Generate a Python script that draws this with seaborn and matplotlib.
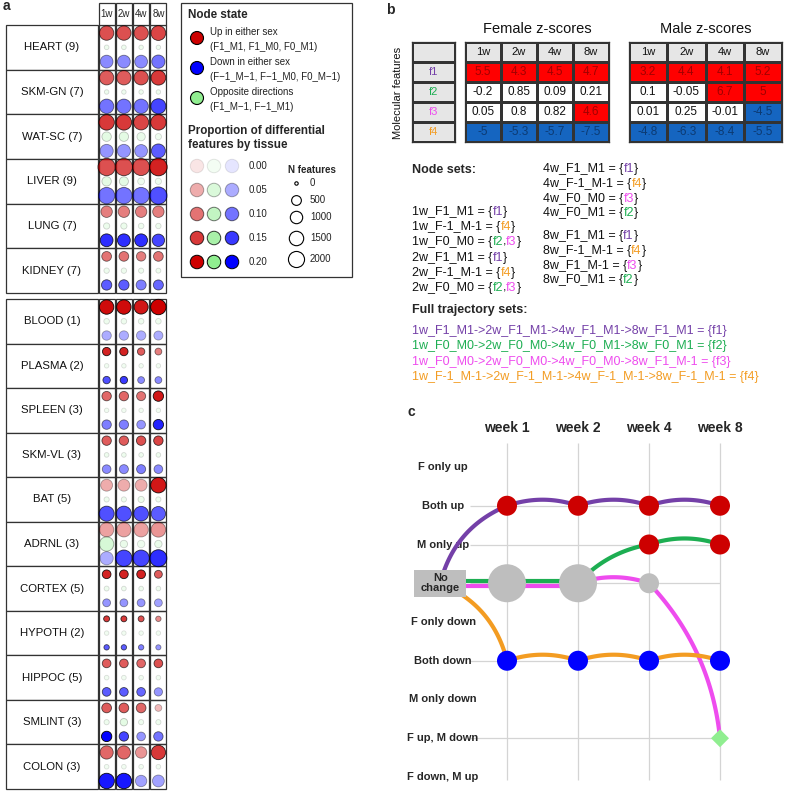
import numpy as np
import pandas as pd
import matplotlib
matplotlib.use("Agg")
import matplotlib.pyplot as plt
import seaborn as sns
from matplotlib.colors import ListedColormap, to_rgba
from matplotlib.patches import Rectangle

W, H = 785, 793

# ---------------- panel a data ----------------
WEEKS = ["1w", "2w", "4w", "8w"]
TISSUES_TOP = ["HEART", "SKM-GN", "WAT-SC", "LIVER", "LUNG", "KIDNEY"]
TISSUES_BOTTOM = ["BLOOD", "PLASMA", "SPLEEN", "SKM-VL", "BAT", "ADRNL",
                  "CORTEX", "HYPOTH", "HIPPOC", "SMLINT", "COLON"]
N_OMES = [9, 7, 7, 9, 7, 7, 1, 2, 3, 3, 5, 3, 5, 2, 5, 3, 3]

# number of features per tissue x week (up / opposite / down)
N_UP = [
    [1500, 1500, 1500, 1600], [1500, 1500, 1500, 1600], [1800, 1800, 1700, 1800],
    [2400, 2400, 2300, 2500], [800, 800, 800, 800], [500, 500, 450, 500],
    [1500, 1500, 1400, 1800], [300, 300, 200, 150], [450, 450, 400, 600],
    [450, 450, 450, 450], [900, 900, 900, 1800], [1500, 1500, 1500, 1600],
    [350, 350, 350, 250], [80, 80, 80, 50], [350, 350, 350, 350],
    [500, 500, 500, 150], [1200, 1200, 800, 1500],
]
N_OPP = [
    [20, 20, 15, 15], [15, 15, 15, 15], [450, 450, 300, 100],
    [450, 400, 150, 100], [100, 100, 60, 50], [50, 50, 40, 30],
    [60, 60, 60, 60], [15, 15, 15, 15], [15, 15, 15, 15],
    [20, 20, 20, 20], [40, 40, 100, 40], [1500, 200, 200, 200],
    [30, 20, 20, 20], [15, 15, 15, 15], [20, 20, 20, 20],
    [40, 200, 40, 40], [20, 20, 20, 20],
]
N_DOWN = [
    [1100, 1100, 1100, 1200], [1500, 1500, 1500, 1700], [1200, 1200, 1100, 1400],
    [2100, 2100, 2100, 2400], [1100, 1100, 1100, 1000], [600, 600, 550, 550],
    [450, 450, 450, 400], [200, 200, 150, 150], [450, 450, 350, 600],
    [350, 400, 400, 350], [1700, 1700, 1600, 1500], [1200, 2100, 2100, 2300],
    [250, 250, 250, 250], [50, 50, 50, 40], [350, 350, 350, 300],
    [600, 450, 350, 450], [1800, 1800, 800, 900],
]
# proportion of differential features by tissue
P_UP = [
    [0.13, 0.13, 0.13, 0.14], [0.12, 0.12, 0.13, 0.15], [0.15, 0.15, 0.14, 0.15],
    [0.13, 0.13, 0.13, 0.17], [0.09, 0.09, 0.09, 0.09], [0.10, 0.10, 0.09, 0.10],
    [0.19, 0.19, 0.18, 0.20], [0.17, 0.17, 0.12, 0.09], [0.11, 0.11, 0.10, 0.18],
    [0.12, 0.12, 0.13, 0.14], [0.05, 0.05, 0.05, 0.18], [0.06, 0.06, 0.06, 0.07],
    [0.17, 0.17, 0.17, 0.12], [0.15, 0.15, 0.13, 0.08], [0.12, 0.12, 0.11, 0.13],
    [0.12, 0.12, 0.11, 0.04], [0.11, 0.11, 0.07, 0.15],
]
P_OPP = [
    [0.01, 0.01, 0.01, 0.01], [0.01, 0.01, 0.01, 0.01], [0.03, 0.03, 0.02, 0.01],
    [0.03, 0.03, 0.01, 0.01], [0.015, 0.015, 0.01, 0.01], [0.01, 0.01, 0.01, 0.01],
    [0.01, 0.01, 0.01, 0.01], [0.005, 0.005, 0.005, 0.005], [0.005, 0.005, 0.005, 0.005],
    [0.01, 0.01, 0.01, 0.01], [0.01, 0.01, 0.015, 0.01], [0.06, 0.02, 0.01, 0.02],
    [0.01, 0.01, 0.01, 0.01], [0.005, 0.005, 0.005, 0.005], [0.005, 0.005, 0.005, 0.005],
    [0.01, 0.03, 0.01, 0.01], [0.005, 0.005, 0.005, 0.005],
]
P_DOWN = [
    [0.08, 0.08, 0.08, 0.10], [0.10, 0.10, 0.10, 0.14], [0.07, 0.07, 0.07, 0.12],
    [0.10, 0.10, 0.10, 0.13], [0.16, 0.16, 0.16, 0.14], [0.12, 0.12, 0.09, 0.11],
    [0.05, 0.05, 0.05, 0.05], [0.13, 0.15, 0.08, 0.08], [0.09, 0.09, 0.07, 0.17],
    [0.08, 0.08, 0.09, 0.08], [0.13, 0.13, 0.13, 0.12], [0.05, 0.14, 0.14, 0.16],
    [0.07, 0.07, 0.07, 0.06], [0.12, 0.12, 0.09, 0.07], [0.12, 0.12, 0.11, 0.07],
    [0.20, 0.14, 0.07, 0.10], [0.18, 0.18, 0.06, 0.06],
]
LEGEND_PROPS = [0.00, 0.05, 0.10, 0.15, 0.20]
LEGEND_N = [0, 500, 1000, 1500, 2000]

# ---------------- panel b / c data ----------------
FEATURES = ["f1", "f2", "f3", "f4"]
FEATURE_COLORS = ["#7440A8", "#1DAE52", "#EE4CEE", "#F39C22"]
Z_FEMALE = [[5.5, 4.3, 4.5, 4.7], [-0.2, 0.85, 0.09, 0.21],
            [0.05, 0.8, 0.82, 4.6], [-5, -5.3, -5.7, -7.5]]
Z_MALE = [[3.2, 4.4, 4.1, 5.2], [0.1, -0.05, 6.7, 5],
          [0.01, 0.25, -0.01, -4.5], [-4.8, -6.3, -8.4, -5.5]]
STATE_ROWS = ["F only up", "Both up", "M only up", "No change", "F only down",
              "Both down", "M only down", "F up, M down", "F down, M up"]
STATE_CODES = {"Both up": "F1_M1", "Both down": "F-1_M-1", "No change": "F0_M0",
               "F up, M down": "F1_M-1", "M only up": "F0_M1"}
TRAJ = [
    ["Both up", "Both up", "Both up", "Both up"],
    ["No change", "No change", "M only up", "M only up"],
    ["No change", "No change", "No change", "F up, M down"],
    ["Both down", "Both down", "Both down", "Both down"],
]
WEEK_LABELS = ["week 1", "week 2", "week 4", "week 8"]

UP_COL, OPP_COL, DOWN_COL = "#CD0000", "#90EE90", "#0000FF"
FRAME = "#333333"

sns.set_theme(style="white")
plt.rcParams["font.family"] = ["Liberation Sans", "DejaVu Sans"]

fig = plt.figure(figsize=(W / 100, H / 100), dpi=100)


def px_axes(x0, y0, x1, y1):
    return fig.add_axes([x0 / W, 1 - y1 / H, (x1 - x0) / W, (y1 - y0) / H])


def dot_diam(n):
    return 4 + 12.7 * np.sqrt(np.asarray(n, float) / 2000)


def px2area(d):
    return (np.asarray(d, float) * 0.72) ** 2


def prop_alpha(p):
    return 0.1 + 0.9 * np.clip(np.asarray(p, float) / 0.2, 0, 1)


ov = px_axes(0, 0, W, H)
ov.set_xlim(0, W)
ov.set_ylim(H, 0)
ov.axis("off")

# ================= panel a =================
SUB = {"up": 0.18, "opp": 0.5, "down": 0.82}
COLS = {"up": UP_COL, "opp": OPP_COL, "down": DOWN_COL}
ALL_TISSUES = TISSUES_TOP + TISSUES_BOTTOM


def draw_group(y0, y1, idx, header):
    ax = px_axes(98, y0, 167, y1)
    n = len(idx)
    ax.set_xlim(-0.5, 3.5)
    ax.set_ylim(n, 0)
    ax.axis("off")
    ux = 69 / 4
    rowh = (y1 - y0) / n
    recs = []
    for r, k in enumerate(idx):
        for st, nn, pp in (("up", N_UP, P_UP), ("opp", N_OPP, P_OPP), ("down", N_DOWN, P_DOWN)):
            for j in range(4):
                recs.append(dict(week=j, y=r + SUB[st], state=st, n=nn[k][j], p=pp[k][j]))
    df = pd.DataFrame(recs)
    df["area"] = px2area(dot_diam(df["n"]) - 0.6)
    amin, amax = df["area"].min(), df["area"].max()
    sns.scatterplot(data=df, x="week", y="y", size="area", sizes=(amin, amax),
                    size_norm=(amin, amax), legend=False, linewidth=0.6,
                    ax=ax, clip_on=False, zorder=3)
    alpha = prop_alpha(df["p"])
    pts = ax.collections[-1]
    pts.set_facecolors([to_rgba(COLS[s], a) for s, a in zip(df["state"], alpha)])
    pts.set_edgecolors([(0, 0, 0, a) for a in alpha])
    g = 0.03
    lx0 = -0.5 - (98 - 6) / ux
    for r, k in enumerate(idx):
        for j in range(4):
            ax.add_patch(Rectangle((j - 0.5 + g, r), 1 - 2 * g, 1, fill=False,
                                   ec=FRAME, lw=0.9, clip_on=False, zorder=2))
        ax.add_patch(Rectangle((lx0, r), -0.5 - lx0, 1, fc="white", ec=FRAME,
                               lw=0.9, clip_on=False, zorder=2))
        ax.text((lx0 - 0.5) / 2, r + 0.5, f"{ALL_TISSUES[k]} ({N_OMES[k]})",
                ha="center", va="center", fontsize=8.2, color="#111111")
    if header:
        hh = 22 / rowh
        for j, wk in enumerate(WEEKS):
            ax.add_patch(Rectangle((j - 0.5 + g, -hh), 1 - 2 * g, hh, fc="white",
                                   ec=FRAME, lw=0.9, clip_on=False, zorder=2))
            ax.text(j, -hh / 2, wk, ha="center", va="center", fontsize=7)


draw_group(25, 293, list(range(len(TISSUES_TOP))), True)
draw_group(299, 789, list(range(len(TISSUES_TOP), len(ALL_TISSUES))), False)

# legend box of panel a
ov.add_patch(Rectangle((181, 3), 171, 274, fill=False, ec=FRAME, lw=0.9))
ov.text(188, 15, "Node state", fontsize=8.4, fontweight="bold", va="center")
ov.scatter([197, 197, 197], [38, 68, 98], s=px2area(13), c=[UP_COL, DOWN_COL, OPP_COL],
           edgecolors="black", linewidths=0.8, zorder=3)
for yy, txt in [(32, "Up in either sex"), (47, "(F1_M1, F1_M0, F0_M1)"),
                (62, "Down in either sex"), (77, "(F\u22121_M\u22121, F\u22121_M0, F0_M\u22121)"),
                (92, "Opposite directions"), (107, "(F1_M\u22121, F\u22121_M1)")]:
    ov.text(210, yy, txt, fontsize=7, va="center", color="#222222")
ov.text(188, 131, "Proportion of differential", fontsize=8.4, fontweight="bold", va="center")
ov.text(188, 145, "features by tissue", fontsize=8.4, fontweight="bold", va="center")
for i, p in enumerate(LEGEND_PROPS):
    yy = 166 + 24 * i
    a = float(prop_alpha(p))
    ov.scatter([197, 214, 232], [yy] * 3, s=px2area(13.5),
               c=[to_rgba(c, a) for c in (UP_COL, OPP_COL, DOWN_COL)],
               edgecolors=[(0, 0, 0, a)] * 3, linewidths=0.7, zorder=3)
    ov.text(249, yy, f"{p:.2f}", fontsize=7, va="center", color="#222222")
ov.text(288, 170, "N features", fontsize=7, fontweight="bold", va="center")
for yy, nf in zip([183, 200, 217, 238, 259], LEGEND_N):
    ov.scatter([296], [yy], s=px2area(dot_diam(nf) - 0.6), c="white",
               edgecolors="black", linewidths=0.8, zorder=3)
    ov.text(310, yy, f"{nf}", fontsize=7, va="center", color="#222222")

# panel letters
ov.text(3, 6, "a", fontsize=10, fontweight="bold", va="center")
ov.text(386, 10, "b", fontsize=10, fontweight="bold", va="center")
ov.text(408, 412, "c", fontsize=10, fontweight="bold", va="center")

# ================= panel b =================
CELL_COLORS = ["#1565C0", "white", "#FF0000", "#E6E6E6"]
TEXT_COLORS = {-1: "#0C3A72", 0: "#111111", 1: "#A00000", 2: "#111111"}


def z_table(rect, z, title):
    z = np.asarray(z, float)
    cat = np.where(z >= 2, 1, np.where(z <= -2, -1, 0))
    cat = np.vstack([np.full((1, 4), 2), cat])
    annot = np.array([WEEKS] + [[f"{v:g}" for v in row] for row in z])
    ax = px_axes(*rect)
    sns.heatmap(cat, annot=annot, fmt="", cmap=ListedColormap(CELL_COLORS),
                vmin=-1.5, vmax=2.5, cbar=False, linewidths=0.8, linecolor=FRAME,
                xticklabels=False, yticklabels=False, ax=ax, annot_kws={"fontsize": 8.5})
    for t, c in zip(ax.texts, cat.flat):
        t.set_color(TEXT_COLORS[int(c)])
        if c == 2:
            t.set_fontsize(8)
    for sp in ax.spines.values():
        sp.set_visible(True)
        sp.set_color(FRAME)
        sp.set_linewidth(0.9)
    fig.text((rect[0] + rect[2]) / 2 / W, 1 - 29 / H, title, ha="center",
             va="center", fontsize=10.5, color="#111111")


z_table((465, 42, 609, 142), Z_FEMALE, "Female z-scores")
z_table((629, 42, 782, 142), Z_MALE, "Male z-scores")

axf = px_axes(412, 42, 455, 142)
sns.heatmap(np.zeros((5, 1)), annot=np.array([[""]] + [[f] for f in FEATURES]), fmt="",
            cmap=ListedColormap(["#E6E6E6"]), cbar=False, linewidths=0.8,
            linecolor=FRAME, xticklabels=False, yticklabels=False, ax=axf,
            annot_kws={"fontsize": 8})
for t, c in zip(axf.texts, ["#111111"] + FEATURE_COLORS):
    t.set_color(c)
for sp in axf.spines.values():
    sp.set_visible(True)
    sp.set_color(FRAME)
    sp.set_linewidth(0.9)
fig.text(398 / W, 1 - 93 / H, "Molecular features", rotation=90, ha="center",
         va="center", fontsize=8, color="#111111")


def multicolor(x, y, parts, size=9):
    t = ov.text(x, y, parts[0][0], color=parts[0][1], fontsize=size, va="center")
    for s, c in parts[1:]:
        t = ov.annotate(s, xy=(1, 0), xycoords=t, color=c, fontsize=size, va="bottom")


fcol = dict(zip(FEATURES, FEATURE_COLORS))
ORDER = ["Both up", "Both down", "No change", "F up, M down", "M only up"]
ov.text(412, 170, "Node sets:", fontsize=9, fontweight="bold", va="center")
blocks = [(0, 412, 212), (1, 412, 258), (2, 543, 169), (3, 543, 236)]
for j, x, y in blocks:
    members = {}
    for f, traj in zip(FEATURES, TRAJ):
        members.setdefault(traj[j], []).append(f)
    line = 0
    for st in ORDER:
        if st not in members:
            continue
        parts = [(f"{WEEKS[j]}_{STATE_CODES[st]} = {{", "#111111")]
        for m, f in enumerate(members[st]):
            if m:
                parts.append((",", "#111111"))
            parts.append((f, fcol[f]))
        parts.append(("}", "#111111"))
        multicolor(x, y + 14.8 * line, parts)
        line += 1

ov.text(412, 310, "Full trajectory sets:", fontsize=9, fontweight="bold", va="center")
for i, (f, traj) in enumerate(zip(FEATURES, TRAJ)):
    s = "->".join(f"{WEEKS[j]}_{STATE_CODES[st]}" for j, st in enumerate(traj))
    ov.text(412, 331 + 15.3 * i, f"{s} = {{{f}}}", color=fcol[f], fontsize=9, va="center")

# ================= panel c =================
PXW, PXR = 71, 38.75
axc = px_axes(400, 420, 785, 793)
ASP = PXR / PXW
ORIGIN = (-0.94, STATE_ROWS.index("No change"))

used_rows = sorted({STATE_ROWS.index(st) for traj in TRAJ for st in traj})
axc.vlines(range(4), -0.62, 8.08, color="#D4D4D4", lw=0.9, zorder=0)
axc.hlines(used_rows, -0.52, 3, color="#D4D4D4", lw=0.9, zorder=0)
for j, wl in enumerate(WEEK_LABELS):
    axc.text(j, -1.0, wl, ha="center", va="center", fontsize=10, fontweight="bold")
for r, st in enumerate(STATE_ROWS):
    if st == "No change":
        axc.add_patch(Rectangle((ORIGIN[0] - 26 / PXW, r - 13.5 / PXR), 52 / PXW, 27 / PXR,
                                fc="#BEBEBE", ec="none", zorder=6))
        axc.text(ORIGIN[0], r, "No\nchange", ha="center", va="center", fontsize=8,
                 fontweight="bold", linespacing=0.95, zorder=7)
    else:
        axc.text(-0.9, r, st, ha="center", va="center", fontsize=8, fontweight="bold",
                 zorder=1)


def arc(p0, p1, c, n=80):
    x0, y0 = p0[0], p0[1] * ASP
    x1, y1 = p1[0], p1[1] * ASP
    cx = (x0 + x1) / 2 + c * (y1 - y0)
    cy = (y0 + y1) / 2 - c * (x1 - x0)
    t = np.linspace(0, 1, n)
    xs = (1 - t) ** 2 * x0 + 2 * (1 - t) * t * cx + t ** 2 * x1
    ys = (1 - t) ** 2 * y0 + 2 * (1 - t) * t * cy + t ** 2 * y1
    return xs, ys / ASP


paths = []
for traj in TRAJ:
    paths.append([ORIGIN] + [(j, STATE_ROWS.index(st)) for j, st in enumerate(traj)])
seg_users = {}
for fi, pth in enumerate(paths):
    for i in range(len(pth) - 1):
        seg_users.setdefault((i, pth[i], pth[i + 1]), []).append(fi)

for fi, pth in enumerate(paths):
    for i in range(len(pth) - 1):
        users = seg_users[(i, pth[i], pth[i + 1])]
        p0, p1 = pth[i], pth[i + 1]
        if len(users) > 1:
            k = users.index(fi)
            off = (k - (len(users) - 1) / 2) * 0.14
            xs = [p0[0], p1[0]]
            ys = [p0[1] + off, p1[1] + off]
        else:
            xs, ys = arc(p0, p1, 0.25 if i == 0 else 0.17)
        axc.plot(xs, ys, color=FEATURE_COLORS[fi], lw=3, solid_capstyle="butt",
                 zorder=2 + fi * 0.1)

node_members = {}
for fi, traj in enumerate(TRAJ):
    for j, st in enumerate(traj):
        node_members.setdefault((j, st), []).append(fi)
ndf = pd.DataFrame([dict(week=j, row=STATE_ROWS.index(st), state=st, count=len(m))
                    for (j, st), m in node_members.items()])
ndf["shape"] = np.where(ndf["state"].isin(["F up, M down", "F down, M up"]), "diamond", "circle")
ndf["area"] = np.where(ndf["shape"] == "diamond", px2area(18) / 2,
                       np.where(ndf["count"] > 1, px2area(38), px2area(20)))
NODE_PALETTE = {"F only up": UP_COL, "Both up": UP_COL, "M only up": UP_COL,
                "No change": "#BEBEBE", "F only down": DOWN_COL, "Both down": DOWN_COL,
                "M only down": DOWN_COL, "F up, M down": OPP_COL, "F down, M up": OPP_COL}
amin, amax = ndf["area"].min(), ndf["area"].max()
sns.scatterplot(data=ndf, x="week", y="row", hue="state", palette=NODE_PALETTE,
                style="shape", markers={"circle": "o", "diamond": "D"},
                size="area", sizes=(amin, amax), size_norm=(amin, amax),
                linewidth=0, legend=False, ax=axc, zorder=5, clip_on=False)
axc.set_xlim((400 - 507) / PXW, (785 - 507) / PXW)
axc.set_ylim((793 - 467) / PXR, (420 - 467) / PXR)
axc.axis("off")

fig.savefig("out.png", dpi=100, facecolor="white")
